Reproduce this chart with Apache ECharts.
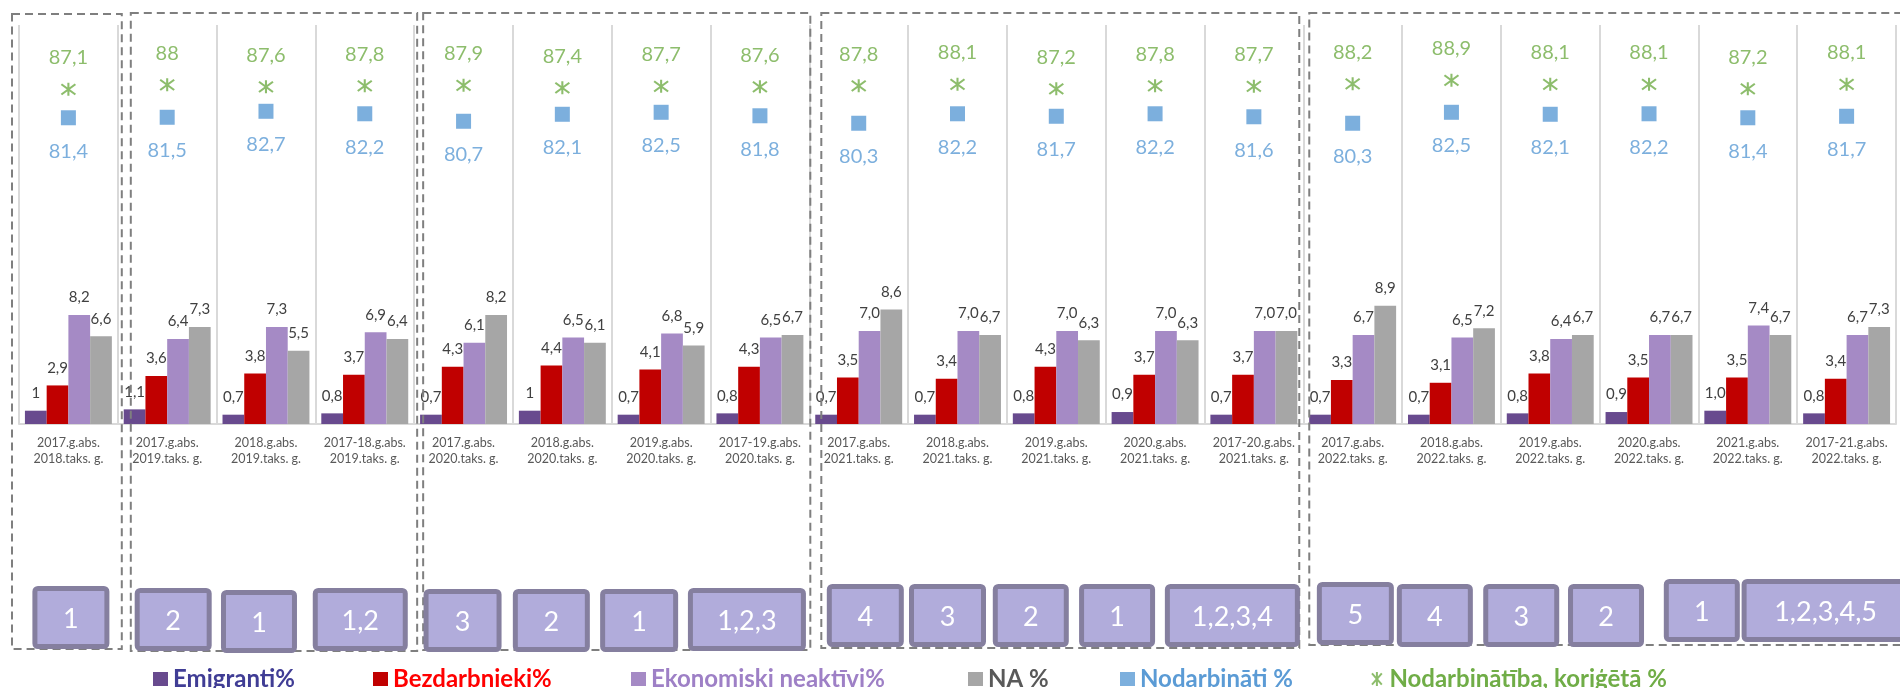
<!DOCTYPE html>
<html>
<head>
<meta charset="utf-8">
<script src="https://cdn.jsdelivr.net/npm/echarts@6/dist/echarts.min.js"></script>
<style>
  html, body { margin: 0; padding: 0; background: #fff; }
  #chart { width: 1900px; height: 688px; }
</style>
</head>
<body>
<div id="chart"></div>
<script>
// kategorijas (absolūtie gadi / taksācijas gads)
var categories = [
  '2017.g.abs.\n2018.taks. g.',
  '2017.g.abs.\n2019.taks. g.', '2018.g.abs.\n2019.taks. g.', '2017-18.g.abs.\n2019.taks. g.',
  '2017.g.abs.\n2020.taks. g.', '2018.g.abs.\n2020.taks. g.', '2019.g.abs.\n2020.taks. g.', '2017-19.g.abs.\n2020.taks. g.',
  '2017.g.abs.\n2021.taks. g.', '2018.g.abs.\n2021.taks. g.', '2019.g.abs.\n2021.taks. g.', '2020.g.abs.\n2021.taks. g.', '2017-20.g.abs.\n2021.taks. g.',
  '2017.g.abs.\n2022.taks. g.', '2018.g.abs.\n2022.taks. g.', '2019.g.abs.\n2022.taks. g.', '2020.g.abs.\n2022.taks. g.', '2021.g.abs.\n2022.taks. g.', '2017-21.g.abs.\n2022.taks. g.'
];
// vērtības kā rakstītas attēlā
var emigranti    = ['1', '1.1', '0.7', '0.8', '0.7', '1', '0.7', '0.8', '0.7', '0.7', '0.8', '0.9', '0.7', '0.7', '0.7', '0.8', '0.9', '1.0', '0.8'];
var bezdarbnieki = ['2.9', '3.6', '3.8', '3.7', '4.3', '4.4', '4.1', '4.3', '3.5', '3.4', '4.3', '3.7', '3.7', '3.3', '3.1', '3.8', '3.5', '3.5', '3.4'];
var neaktivi     = ['8.2', '6.4', '7.3', '6.9', '6.1', '6.5', '6.8', '6.5', '7.0', '7.0', '7.0', '7.0', '7.0', '6.7', '6.5', '6.4', '6.7', '7.4', '6.7'];
var naProc       = ['6.6', '7.3', '5.5', '6.4', '8.2', '6.1', '5.9', '6.7', '8.6', '6.7', '6.3', '6.3', '7.0', '8.9', '7.2', '6.7', '6.7', '6.7', '7.3'];
var nodarbinati  = ['81.4', '81.5', '82.7', '82.2', '80.7', '82.1', '82.5', '81.8', '80.3', '82.2', '81.7', '82.2', '81.6', '80.3', '82.5', '82.1', '82.2', '81.4', '81.7'];
var korigeta     = ['87.1', '88', '87.6', '87.8', '87.9', '87.4', '87.7', '87.6', '87.8', '88.1', '87.2', '87.8', '87.7', '88.2', '88.9', '88.1', '88.1', '87.2', '88.1'];
// numuri lodziņos zem kategorijām
var boxTexts = ['1', '2', '1', '1,2', '3', '2', '1', '1,2,3', '4', '3', '2', '1', '1,2,3,4', '5', '4', '3', '2', '1', '1,2,3,4,5'];
// grupu izmēri (kategoriju skaits katrā rāmī)
var groupSizes = [1, 3, 4, 5, 6];

var FONT = 'Lato, "Open Sans", sans-serif';
var STAR = 'path://M5,0L5,10M1.5,1L8.5,9M8.5,1L1.5,9';

function comma(s) { return s.replace('.', ','); }

function barSeries(name, vals, color) {
  return {
    name: name,
    type: 'bar',
    data: vals.map(Number),
    barGap: 0,
    barCategoryGap: '12%',
    itemStyle: { color: color },
    label: {
      show: true, position: 'top', distance: 10,
      color: '#404040', fontSize: 15, fontFamily: FONT,
      formatter: function (p) { return comma(vals[p.dataIndex]); }
    }
  };
}

var chart = echarts.init(document.getElementById('chart'));

var legends = [
  { name: 'Emigranti%', left: 148, color: '#403d95', icon: 'rect' },
  { name: 'Bezdarbnieki%', left: 368, color: '#ff0000', icon: 'rect' },
  { name: 'Ekonomiski neaktīvi%', left: 626, color: '#9e80c6', icon: 'rect' },
  { name: 'NA %', left: 963, color: '#595959', icon: 'rect' },
  { name: 'Nodarbināti %', left: 1115, color: '#5b9bd5', icon: 'rect' },
  { name: 'Nodarbinātība, koriģētā %', left: 1366, color: '#70ad47', icon: STAR,
    itemStyle: { color: 'rgba(0,0,0,0)', borderColor: '#70ad47', borderWidth: 2 } }
];

chart.setOption({
  animation: false,
  grid: { left: 19, right: 4, top: 25, bottom: 264 },
  legend: legends.map(function (l) {
    var item = { name: l.name, icon: l.icon };
    if (l.itemStyle) item.itemStyle = l.itemStyle;
    return {
      data: [item], left: l.left, top: 662,
      itemWidth: 15, itemHeight: 14, selectedMode: false,
      textStyle: { color: l.color, fontSize: 24, fontWeight: 'bold', fontFamily: FONT }
    };
  }),
  xAxis: {
    type: 'category',
    data: categories,
    axisTick: { show: false },
    axisLine: { lineStyle: { color: '#d9d9d9', width: 2 } },
    splitLine: { show: true, lineStyle: { color: '#d9d9d9', width: 2 } },
    axisLabel: { interval: 0, color: '#595959', fontSize: 12.5, lineHeight: 16, margin: 11, fontFamily: FONT }
  },
  yAxis: [
    { type: 'value', min: 0, max: 30, show: false, splitLine: { show: false } },
    { type: 'value', min: 20, max: 100, show: false, splitLine: { show: false } }
  ],
  series: [
    barSeries('Emigranti%', emigranti, '#684a8e'),
    barSeries('Bezdarbnieki%', bezdarbnieki, '#c00000'),
    barSeries('Ekonomiski neaktīvi%', neaktivi, '#a58ac5'),
    barSeries('NA %', naProc, '#a6a6a6'),
    {
      name: 'Nodarbināti %',
      type: 'scatter',
      yAxisIndex: 1,
      data: nodarbinati.map(Number),
      symbol: 'rect',
      symbolSize: [15, 15],
      itemStyle: { color: '#5b9bd5' },
      label: {
        show: true, position: 'bottom', distance: 16,
        color: '#5b9bd5', fontSize: 20, fontFamily: FONT,
        formatter: function (p) { return comma(nodarbinati[p.dataIndex]); }
      }
    },
    {
      name: 'Nodarbinātība, koriģētā %',
      type: 'scatter',
      yAxisIndex: 1,
      data: korigeta.map(Number),
      symbol: STAR,
      symbolSize: [14, 13],
      itemStyle: { color: 'rgba(0,0,0,0)', borderColor: '#70ad47', borderWidth: 2 },
      label: {
        show: true, position: 'top', distance: 14,
        color: '#70ad47', fontSize: 20, fontFamily: FONT,
        formatter: function (p) { return comma(korigeta[p.dataIndex]); }
      }
    }
  ]
});

// rāmji un numuru lodziņi, piesaistīti kategoriju asij
var c0 = chart.convertToPixel({ xAxisIndex: 0 }, categories[0]);
var c1 = chart.convertToPixel({ xAxisIndex: 0 }, categories[1]);
var step = c1 - c0;
function edge(k) { return c0 - step / 2 + k * step; }

// [kreisā atkāpe, labā atkāpe, augša, apakša]
var framePad = [[-7, 4, 14, 649], [13, 3, 13, 651], [9, 1, 13, 650], [12, -4, 13, 648], [6, 30, 13, 645]];
var boxShift = [2.5, 6, -7, -4.5, -1, -11, -22, -13, 6.6, -10, -25.5, -38, -21.5, 2.7, -16.6, -29, -43, -46, -21];
var boxWidth = [77, 77, 76, 95, 78, 77, 78, 118, 77, 77, 76, 76, 135, 77, 76, 76, 76, 76, 168];
var boxTop = [586, 588, 590, 588, 589, 589, 589, 588, 584, 584, 584, 584, 584, 582, 584, 584, 584, 579, 579];

var graphics = [];
var start = 0;
groupSizes.forEach(function (n, g) {
  var p = framePad[g];
  var x1 = edge(start) + p[0];
  var x2 = edge(start + n) + p[1];
  graphics.push({
    type: 'rect', z: 50, silent: true,
    shape: { x: x1, y: p[2], width: x2 - x1, height: p[3] - p[2] },
    style: { fill: 'none', stroke: '#7f7f7f', lineWidth: 2, lineDash: [8, 5] }
  });
  start += n;
});

boxTexts.forEach(function (t, i) {
  var cx = chart.convertToPixel({ xAxisIndex: 0 }, categories[i]) + boxShift[i];
  var w = boxWidth[i];
  graphics.push({
    type: 'rect', z: 60, silent: true,
    shape: { x: cx - w / 2 + 2.5, y: boxTop[i] + 2.5, width: w - 5, height: 58, r: 3 },
    style: { fill: '#b1acdb', stroke: '#857f9f', lineWidth: 5 }
  });
  graphics.push({
    type: 'text', z: 61, silent: true,
    x: cx, y: boxTop[i] + 33,
    style: {
      text: t, fill: '#ffffff', fontSize: 27, fontFamily: FONT,
      textAlign: 'center', textVerticalAlign: 'middle'
    }
  });
});

chart.setOption({ graphic: graphics });
</script>
</body>
</html>
